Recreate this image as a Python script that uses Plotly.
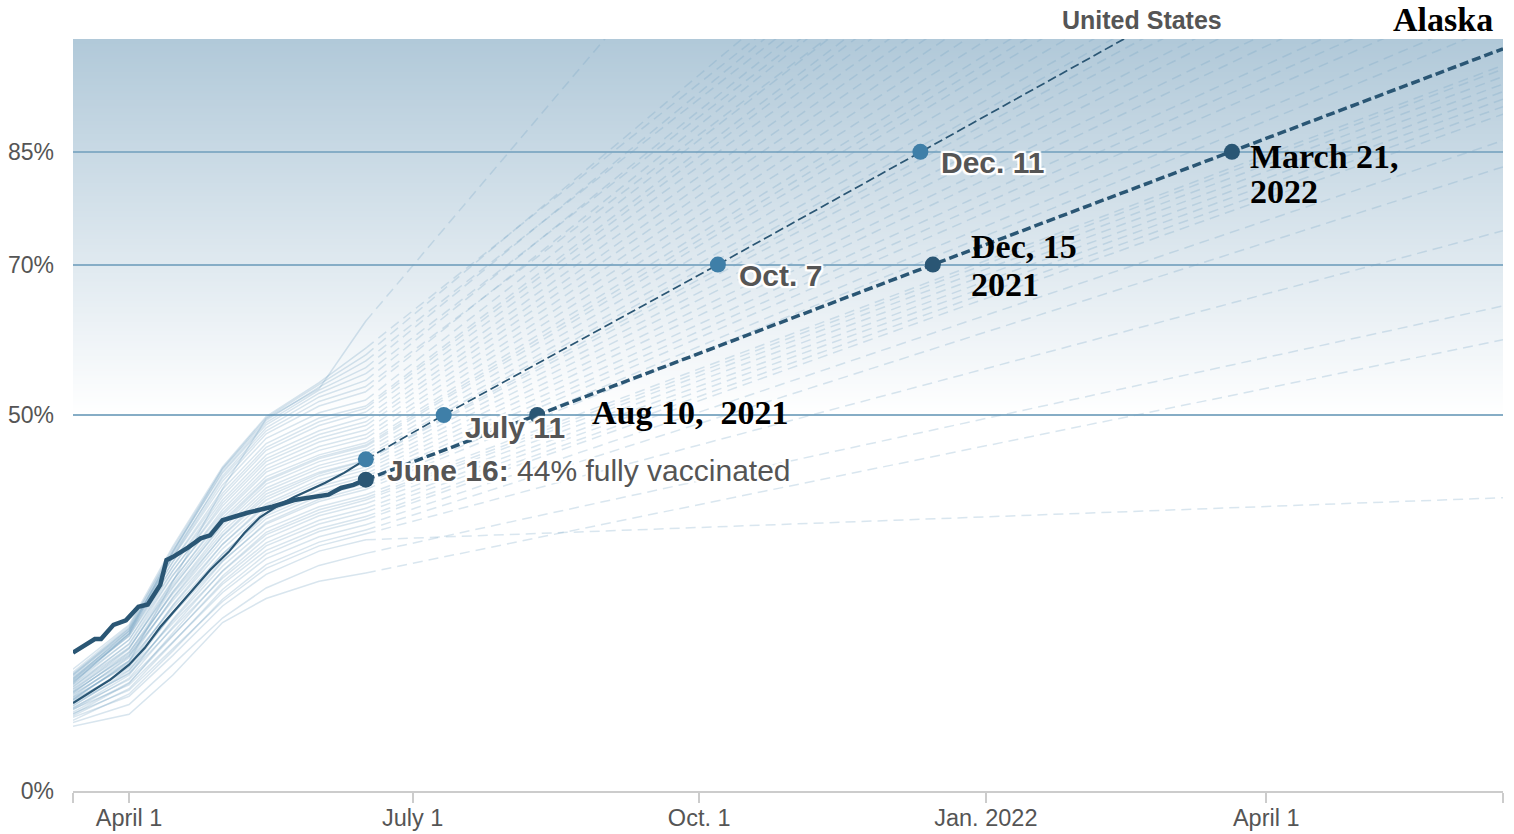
import base64
import struct
import zlib

import plotly.graph_objects as go

# ---------------- data ----------------
state_dates = ["2021-03-14", "2021-04-01", "2021-04-15", "2021-05-01",
               "2021-05-15", "2021-06-01", "2021-06-16"]
proj_dates = ["2021-06-16", "2022-06-16"]

st_mar14 = [8.6, 9.1, 9.8, 10.3, 9.4, 10.9, 10.0, 11.1, 10.5, 11.7, 10.2, 12.1, 10.8, 11.4, 12.5, 11.0, 11.9,
            12.9, 11.3, 12.3, 13.2, 11.6, 12.7, 13.5, 12.1, 13.1, 12.5, 13.9, 13.0, 13.6, 14.1, 13.3, 14.5,
            13.8, 14.9, 14.2, 15.1, 14.6, 15.4, 14.7, 15.6, 15.0, 15.3, 14.4, 15.8, 14.8, 15.5, 14.3, 16.2, 12.2]
st_apr01 = [10.2, 11.5, 12.6, 13.4, 12.9, 14.1, 13.6, 14.8, 14.4, 15.6, 14.3, 16.1, 15.0, 15.7, 16.8, 15.4, 16.4,
            17.3, 16.0, 17.0, 18.0, 16.6, 17.7, 18.5, 17.3, 18.2, 17.9, 19.1, 18.4, 19.0, 19.5, 18.9, 20.1,
            19.6, 20.6, 20.1, 20.9, 20.6, 21.3, 20.9, 21.6, 21.2, 21.5, 20.8, 21.9, 21.3, 21.7, 21.0, 22.1, 17.2]
st_apr15 = [15.4, 16.8, 18.0, 18.9, 18.6, 19.8, 19.7, 20.7, 20.6, 21.6, 21.0, 22.3, 21.8, 22.6, 23.5, 22.8, 23.6,
            24.3, 23.6, 24.6, 25.3, 24.7, 25.6, 26.2, 25.7, 26.4, 26.5, 27.2, 27.0, 27.5, 28.0, 27.9, 28.7,
            28.6, 29.3, 29.2, 29.8, 29.9, 30.4, 30.5, 31.0, 31.1, 31.5, 31.2, 31.9, 31.7, 32.2, 31.8, 32.5, 27.8]
st_may01 = [22.4, 23.0, 24.6, 25.2, 25.5, 26.4, 26.8, 27.5, 27.8, 28.3, 28.6, 29.2, 29.3, 29.9, 30.6, 30.5, 31.1,
            31.5, 31.5, 32.2, 32.8, 32.8, 33.4, 33.9, 34.0, 34.4, 34.9, 35.3, 35.6, 35.9, 36.3, 36.7, 37.0,
            37.4, 37.9, 38.3, 38.7, 39.2, 39.6, 40.1, 40.7, 41.2, 41.6, 41.9, 42.3, 42.5, 42.8, 42.9, 43.1, 40.2]
st_may15 = [25.6, 27.0, 28.8, 29.6, 30.1, 30.9, 31.5, 32.0, 32.6, 33.0, 33.6, 34.1, 34.4, 34.9, 35.5, 35.7, 36.2,
            36.6, 36.9, 37.4, 37.9, 38.2, 38.7, 39.1, 39.5, 39.9, 40.3, 40.8, 41.2, 41.4, 41.8, 42.4, 42.8,
            43.3, 43.8, 44.2, 44.7, 45.3, 45.7, 46.2, 46.9, 47.5, 47.9, 48.3, 48.7, 49.0, 49.3, 49.6, 49.8, 49.5]
st_jun01 = [27.9, 30.0, 31.9, 32.6, 33.1, 33.8, 34.5, 34.9, 35.5, 36.0, 36.6, 37.0, 37.4, 37.8, 38.5, 38.8, 39.2,
            39.6, 40.1, 40.5, 41.0, 41.4, 41.9, 42.2, 42.4, 42.9, 43.3, 43.8, 44.2, 44.4, 44.7, 45.3, 45.8,
            46.4, 46.9, 47.4, 47.9, 48.6, 49.1, 49.6, 50.3, 51.2, 51.8, 52.4, 52.9, 53.3, 53.7, 54.0, 54.3, 53.5]
st_jun16 = [29.0, 31.6, 33.4, 34.2, 34.7, 35.4, 36.1, 36.5, 37.1, 37.6, 38.2, 38.7, 39.0, 39.4, 40.1, 40.5, 40.9,
            41.3, 41.8, 42.2, 42.7, 43.1, 43.6, 43.9, 44.0, 44.5, 44.9, 45.4, 45.8, 46.0, 46.3, 46.9, 47.4,
            48.0, 48.6, 49.1, 49.7, 50.4, 50.9, 51.2, 52.0, 53.1, 53.8, 54.6, 55.5, 56.3, 57.2, 58.0, 58.9, 62.5]
st_jun16_2022 = [60, 64.5, 39, 74.5, 83, 86.5, 90, 91, 92, 93, 94, 95, 96, 96.5, 102, 104, 107,
                 109, 111, 114, 116, 119, 121, 124, 126, 129, 131, 134, 137, 139, 141, 144, 147,
                 150, 153, 156, 159, 162, 165, 167, 170, 174, 168, 177, 172, 181, 176, 185, 179, 241]

us_dates = ["2021-03-14", "2021-03-20", "2021-03-26", "2021-04-01", "2021-04-06", "2021-04-11", "2021-04-17",
            "2021-04-22", "2021-04-27", "2021-05-03", "2021-05-08", "2021-05-13", "2021-05-19", "2021-05-24",
            "2021-05-29", "2021-06-03", "2021-06-09", "2021-06-16"]
us_values = [11.7, 13.2, 14.8, 16.8, 19.0, 21.8, 24.7, 27.1, 29.4, 31.8, 34.3, 36.4, 38.0, 39.1, 40.0, 41.0,
             42.3, 44.1]
us_proj_dates = ["2021-06-16", "2021-07-11", "2021-10-07", "2021-12-11", "2022-06-16"]
us_proj_values = [44.1, 50, 70, 85, 128]

ak_dates = ["2021-03-14", "2021-03-21", "2021-03-23", "2021-03-27", "2021-03-31", "2021-04-04", "2021-04-07",
            "2021-04-11", "2021-04-13", "2021-04-15", "2021-04-20", "2021-04-24", "2021-04-27", "2021-05-01",
            "2021-05-09", "2021-05-17", "2021-05-24", "2021-05-30", "2021-06-04", "2021-06-08", "2021-06-12",
            "2021-06-16"]
ak_values = [18.4, 20.2, 20.2, 22.1, 22.7, 24.5, 24.8, 27.4, 30.7, 31.1, 32.4, 33.6, 34.0, 36.0, 37.0, 37.8,
             38.7, 39.1, 39.4, 40.3, 40.7, 41.4]
ak_proj_dates = ["2021-06-16", "2021-08-10", "2021-12-15", "2022-03-21", "2022-06-16"]
ak_proj_values = [41.4, 50, 70, 85, 98.7]

us_marker_dates = ["2021-06-16", "2021-07-11", "2021-10-07", "2021-12-11"]
us_marker_values = [44.1, 50, 70, 85]
ak_marker_dates = ["2021-06-16", "2021-08-10", "2021-12-15", "2022-03-21"]
ak_marker_values = [41.4, 50, 70, 85]

x_tick_vals = ["2021-03-14", "2021-04-01", "2021-07-01", "2021-10-01", "2022-01-01", "2022-04-01", "2022-06-16"]
x_tick_text = ["", "April 1", "July 1", "Oct. 1", "Jan. 2022", "April 1", ""]
y_tick_vals = [0, 50, 70, 85]
y_tick_text = ["0%", "50%", "70%", "85%"]

# ---------------- styles ----------------
DARK = "#2a5674"
MID = "#3f7fa8"
GRAY = "#555555"
SANS = "Liberation Sans, Arial, Helvetica, sans-serif"
SERIF = "Liberation Serif, Times New Roman, serif"
HALO = ("-2px -2px 1px #fff, 2px -2px 1px #fff, -2px 2px 1px #fff, 2px 2px 1px #fff, "
        "0 2px 1px #fff, 0 -2px 1px #fff, 2px 0 1px #fff, -2px 0 1px #fff")


def gradient_png(top_rgb, bottom_rgb, n=200):
    rows = []
    for i in range(n):
        t = i / (n - 1)
        c = bytes(int(round(top_rgb[k] + (bottom_rgb[k] - top_rgb[k]) * t)) for k in range(3))
        rows.append(b"\x00" + c + c)

    def chunk(tag, data):
        out = struct.pack(">I", len(data)) + tag + data
        return out + struct.pack(">I", zlib.crc32(tag + data) & 0xFFFFFFFF)

    png = (b"\x89PNG\r\n\x1a\n"
           + chunk(b"IHDR", struct.pack(">IIBBBBB", 2, n, 8, 2, 0, 0, 0))
           + chunk(b"IDAT", zlib.compress(b"".join(rows)))
           + chunk(b"IEND", b""))
    return "data:image/png;base64," + base64.b64encode(png).decode()


fig = go.Figure()

# state actual lines
for i in range(len(st_jun16)):
    ys = [st_mar14[i], st_apr01[i], st_apr15[i], st_may01[i], st_may15[i], st_jun01[i], st_jun16[i]]
    fig.add_trace(go.Scatter(x=state_dates, y=ys, mode="lines",
                             line=dict(color="rgba(90,145,182,0.24)", width=1.5),
                             hoverinfo="skip", showlegend=False))
# state projections
for i in range(len(st_jun16)):
    fig.add_trace(go.Scatter(x=proj_dates, y=[st_jun16[i], st_jun16_2022[i]], mode="lines",
                             line=dict(color="rgba(115,162,195,0.27)", width=1.5, dash="10px,6px"),
                             hoverinfo="skip", showlegend=False))

# United States
fig.add_trace(go.Scatter(x=us_proj_dates, y=us_proj_values, mode="lines",
                         line=dict(color=DARK, width=1.7, dash="9px,4px"), showlegend=False))
fig.add_trace(go.Scatter(x=us_dates, y=us_values, mode="lines",
                         line=dict(color=DARK, width=2.2), showlegend=False))
# Alaska
fig.add_trace(go.Scatter(x=ak_proj_dates, y=ak_proj_values, mode="lines",
                         line=dict(color=DARK, width=3.5, dash="9px,4px"), showlegend=False))
fig.add_trace(go.Scatter(x=ak_dates, y=ak_values, mode="lines",
                         line=dict(color=DARK, width=4.5), showlegend=False))
fig.add_trace(go.Scatter(x=us_marker_dates, y=us_marker_values, mode="markers",
                         marker=dict(color=MID, size=16), showlegend=False))
fig.add_trace(go.Scatter(x=ak_marker_dates, y=ak_marker_values, mode="markers",
                         marker=dict(color=DARK, size=16), showlegend=False))

annotations = [
    dict(x="2021-12-11", y=85, text="<b>Dec. 11</b>", xshift=19, yshift=-11,
         font=dict(family=SANS, size=30, color=GRAY, shadow=HALO)),
    dict(x="2021-10-07", y=70, text="<b>Oct. 7</b>", xshift=19, yshift=-11,
         font=dict(family=SANS, size=30, color=GRAY, shadow=HALO)),
    dict(x="2021-07-11", y=50, text="<b>July 11</b>", xshift=19, yshift=-12,
         font=dict(family=SANS, size=30, color=GRAY, shadow=HALO)),
    dict(x="2021-06-16", y=42.6, text="<b>June 16:</b> 44% fully vaccinated", xshift=19, yshift=0,
         font=dict(family=SANS, size=30, color=GRAY, shadow=HALO)),
    dict(x="2021-08-10", y=50, text="<b>Aug 10,  2021</b>", xshift=53, yshift=3,
         font=dict(family=SERIF, size=34, color="#000")),
    dict(x="2021-12-15", y=70, text="<b>Dec, 15</b>", xshift=36, yshift=18,
         font=dict(family=SERIF, size=34, color="#000")),
    dict(x="2021-12-15", y=70, text="<b>2021</b>", xshift=36, yshift=-20,
         font=dict(family=SERIF, size=34, color="#000")),
    dict(x="2022-03-21", y=85, text="<b>March 21,</b>", xshift=16, yshift=-5,
         font=dict(family=SERIF, size=34, color="#000")),
    dict(x="2022-03-21", y=85, text="<b>2022</b>", xshift=16, yshift=-40,
         font=dict(family=SERIF, size=34, color="#000")),
]
for a in annotations:
    a.update(xref="x", yref="y", xanchor="left", yanchor="middle", showarrow=False)

annotations += [
    dict(x=0.7476, y=1.0253, xref="paper", yref="paper", text="<b>United States</b>", showarrow=False,
         xanchor="center", yanchor="middle", font=dict(family=SANS, size=25, color=GRAY)),
    dict(x=0.958, y=1.0253, xref="paper", yref="paper", text="<b>Alaska</b>", showarrow=False,
         xanchor="center", yanchor="middle", font=dict(family=SERIF, size=34, color="#000")),
]

fig.update_layout(
    width=1514, height=834,
    autosize=False,
    margin=dict(l=73, r=11, t=39, b=43, pad=0),
    paper_bgcolor="white", plot_bgcolor="white",
    showlegend=False,
    annotations=annotations,
    images=[dict(source=gradient_png((177, 201, 217), (255, 255, 255)),
                 xref="paper", yref="paper", x=0, y=1, sizex=1, sizey=0.5,
                 xanchor="left", yanchor="top", sizing="stretch", layer="below")],
    xaxis=dict(type="date", range=["2021-03-14", "2022-06-16"], tickvals=x_tick_vals, ticktext=x_tick_text,
               ticks="outside", ticklen=10, tickwidth=2, tickcolor="#cccccc", automargin=False,
               showline=True, linecolor="#cccccc", linewidth=2, showgrid=False, zeroline=False,
               ticklabelstandoff=-5,
               tickfont=dict(family=SANS, size=23.5, color=GRAY)),
    yaxis=dict(range=[0, 100], tickvals=y_tick_vals, ticktext=y_tick_text, showgrid=True, automargin=False,
               gridcolor="#86adc6", gridwidth=1.5, zeroline=False, showline=False,
               ticklabelstandoff=18,
               tickfont=dict(family=SANS, size=23, color=GRAY)),
)

fig.write_html("out.html",
               config={"responsive": False, "displayModeBar": False},
               post_script="document.body.style.margin='0px';document.body.style.overflow='hidden';")
